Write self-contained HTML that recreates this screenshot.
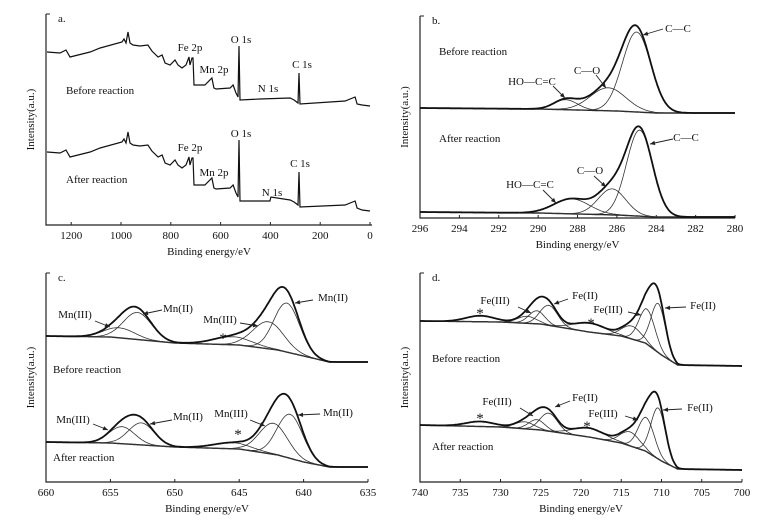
<!DOCTYPE html>
<html><head><meta charset="utf-8">
<style>
html,body{margin:0;padding:0;background:#fff;}
svg{display:block;font-family:"Liberation Serif",serif;}
text{fill:#111;font-size:11px;}
text.star{font-size:15px;}
</style></head>
<body>
<svg id="fig" width="780" height="529" viewBox="0 0 780 529"></svg>
<script>
// ===== Panel a: survey spectra (energy eV, intensity a.u.) =====
const aEnergy = [1297,1245,1221,1205,1124,1084,996,988,980,972,964,952,924,892,876,851,835,823,803,783,771,755,739,727,723,715,711,707,663,635,627,618,562,550,538,530,526,522,442,321,305,289,285,281,100,60,52,32,0];
const aBefore = [173,172,175,168,173,177,183,186,182,193,182,180,179,180,174,168,170,162,160,165,160,157,160,168,160,167,167,140,140,147,137,136,137,140,132,128,179,125,126,127,125,122,152,121,124,128,121,120,119];
const aAfterE = [1297,1245,1221,1205,1124,1084,996,988,980,972,964,952,924,892,876,851,835,823,803,783,771,755,739,727,723,715,711,707,663,635,627,618,562,550,538,530,526,522,442,402,398,321,305,289,285,281,100,60,52,32,0];
const aAfter = [73,72,75,68,73,77,83,86,82,93,82,80,79,80,74,68,70,62,60,65,60,57,60,68,60,67,67,40,40,47,37,36,37,40,32,28,85,24,24,24,28,25,23,20,53,18,20,24,17,15,14];
const aTicks = [1200,1000,800,600,400,200,0];

// ===== Panel b: C 1s =====
const bBgE = [296,290,288,286,284,283,280];
const bBgBefore = [110,109,108,107,105,105,105];
const bBgAfter = [6,5,4,3,1,1,1];
const bCenterBefore = [285.0,286.45,288.6];
const bHeightBefore = [80,23,10];
const bSigmaBefore = [0.72,0.9,0.6];
const bCenterAfter = [284.85,286.25,288.3];
const bHeightAfter = [86,26,15];
const bSigmaAfter = [0.66,0.7,0.9];
const bTicks = [296,294,292,290,288,286,284,282,280];

// ===== Panel c: Mn 2p =====
const cBgE = [660,655,650,645,642,640,638,635];
const cBgBefore = [146,145,139,137,132,126,120,120];
const cBgAfter = [40,39,35,33,27,20,15,15];
const cCenterBefore = [641.3,642.75,645.5,652.9,654.3];
const cHeightBefore = [49,27,8,27,10];
const cSigmaBefore = [1.0,1.2,1.5,1.1,1.2];
const cCenterAfter = [641.05,642.35,645.5,652.6,654.1];
const cHeightAfter = [44,31,6,22,17];
const cSigmaAfter = [1.0,1.1,1.5,1.0,1.0];
const cTicks = [660,655,650,645,640,635];

// ===== Panel d: Fe 2p =====
const dBgE = [740,730,725,719,715,712,710,708,700];
const dBgBefore = [161,160,158,150,146,139,127,117,116];
const dBgAfter = [57,55,52,45,39,31,21,13,12];
const dCenterBefore = [710.4,711.8,713.7,718.9,724.0,725.5,726.7,732.5];
const dHeightBefore = [49,35,13,9,20,13,7,6];
const dSigmaBefore = [0.9,1.0,1.2,2.0,1.1,1.0,1.2,1.8];
const dCenterAfter = [710.4,711.9,713.9,719.0,724.0,725.5,727.0,732.5];
const dHeightAfter = [51,34,14,9,18,10,7,5];
const dSigmaAfter = [0.9,1.0,1.2,2.0,1.1,1.0,1.2,1.8];
const dTicks = [740,735,730,725,720,715,710,705,700];

const NS = "http://www.w3.org/2000/svg";
const svg = document.getElementById('fig');
function mk(tag, attrs, parent){
  const e = document.createElementNS(NS, tag);
  for (const k in attrs) e.setAttribute(k, attrs[k]);
  (parent||svg).appendChild(e);
  return e;
}
function interp(E, xs, ys){
  for (let i=0;i<xs.length-1;i++){
    const a=xs[i], b=xs[i+1];
    if ((E<=a && E>=b) || (E>=a && E<=b)){
      const t=(E-a)/(b-a); return ys[i]+t*(ys[i+1]-ys[i]);
    }
  }
  return ys[ys.length-1];
}
function gauss(E,c,h,s){ return h*Math.exp(-((E-c)*(E-c))/(2*s*s)); }

function axes(g, x0, x1, yTop, yBot, xScale, ticks, letter){
  const ax = mk('path',{d:`M${x0},${yTop} L${x0},${yBot} L${x1},${yBot}`,fill:'none',stroke:'#222','stroke-width':1.2},g);
  
  
  const tt = mk('path',{d:`M${x0},${yTop} L${x0+4},${yTop}`,stroke:'#222','stroke-width':1},g);
  
  
  ticks.forEach(v=>{
    const x = xScale(v);
    const tk = mk('path',{d:`M${x},${yBot} L${x},${yBot-3}`,stroke:'#222','stroke-width':1},g);
    
    
    const t = mk('text',{x:x,y:yBot+14,'text-anchor':'middle'},g);
    t.textContent = v;
    
    
  });
  const xt = mk('text',{x:(x0+x1)/2,y:yBot+30,'text-anchor':'middle'},g);
  xt.textContent = 'Binding energy/eV';
  
  
  const yc = (yTop+yBot)/2;
  const yt = mk('text',{x:x0-12,y:yc,'text-anchor':'middle',transform:`rotate(-90 ${x0-12} ${yc})`},g);
  yt.textContent = 'Intensity(a.u.)';
  
  
  const pl = mk('text',{x:x0+12,y:yTop+8},g);
  pl.textContent = letter;
  
  
}
function label(g, txt, x, y, anchor, name){
  const t = mk('text',{x:x,y:y,'text-anchor':anchor||'middle'},g);
  t.textContent = txt;
  
  
  if (txt==='*') t.setAttribute('class','star');
}
function arrow(g, x1,y1,x2,y2){
  const l = mk('line',{x1:x1,y1:y1,x2:x2,y2:y2,stroke:'#222','stroke-width':0.9},g);
  
  
  const ang = Math.atan2(y2-y1,x2-x1), L=5, W=2.2;
  const bx = x2-L*Math.cos(ang), by = y2-L*Math.sin(ang);
  const px = -Math.sin(ang)*W, py = Math.cos(ang)*W;
  const h = mk('path',{d:`M${x2},${y2} L${bx+px},${by+py} L${bx-px},${by-py} Z`,fill:'#222'},g);
  
  
}
function fitSpectrum(g, xScale, yBot, Emin, Emax, bgE, bgI, cen, hei, sig, name){
  const N=300, comps=cen.map(()=>[]), env=[], bgp=[];
  for (let i=0;i<=N;i++){
    const E = Emax-(Emax-Emin)*i/N;
    const x = xScale(E);
    const bg = interp(E,bgE,bgI);
    let sum=0;
    cen.forEach((c,k)=>{ const v=gauss(E,c,hei[k],sig[k]); sum+=v; comps[k].push(`${x.toFixed(1)},${(yBot-bg-v).toFixed(1)}`); });
    env.push(`${x.toFixed(1)},${(yBot-bg-sum).toFixed(1)}`);
    bgp.push(`${x.toFixed(1)},${(yBot-bg).toFixed(1)}`);
  }
  const b = mk('polyline',{points:bgp.join(' '),fill:'none',stroke:'#222','stroke-width':1.4},g);
  
  
  comps.forEach((p,k)=>{
    const c = mk('polyline',{points:p.join(' '),fill:'none',stroke:'#333','stroke-width':0.8},g);
    
    
  });
  const e = mk('polyline',{points:env.join(' '),fill:'none',stroke:'#111','stroke-width':1.8},g);
  
  
}

// ----- Panel a -----
(function(){
  const g = mk('g',{});  
  const xs = E=>370-E*0.249, yB=225;
  axes(g,46,372,14,yB,xs,aTicks,'a.');
  [[aEnergy,aBefore,'survey-before'],[aAfterE,aAfter,'survey-after']].forEach(([E,I,n])=>{
    const p = mk('polyline',{points:E.map((e,i)=>`${xs(e).toFixed(1)},${yB-I[i]}`).join(' '),fill:'none',stroke:'#111','stroke-width':1.2},g);
    
    
  });
  label(g,'Fe 2p',190,51); label(g,'Mn 2p',214,73); label(g,'O 1s',241,43); label(g,'N 1s',268,92); label(g,'C 1s',302,68);
  label(g,'Before reaction',66,94,'start','before-reaction-label');
  label(g,'Fe 2p',190,151); label(g,'Mn 2p',214,176); label(g,'O 1s',241,137); label(g,'N 1s',272,196); label(g,'C 1s',300,167);
  label(g,'After reaction',66,183,'start','after-reaction-label');
})();

// ----- Panel b -----
(function(){
  const g = mk('g',{});  
  const xs = E=>420+(296-E)*19.69, yB=218;
  axes(g,420,735,16,yB,xs,bTicks,'b.');
  fitSpectrum(g,xs,yB,280,296,bBgE,bBgBefore,bCenterBefore,bHeightBefore,bSigmaBefore,'c1s-before');
  fitSpectrum(g,xs,yB,280,296,bBgE,bBgAfter,bCenterAfter,bHeightAfter,bSigmaAfter,'c1s-after');
  label(g,'Before reaction',439,55,'start','before-reaction-label');
  label(g,'C—C',678,32); label(g,'C—O',587,74); label(g,'HO—C=C',532,85);
  arrow(g,663,29,643,35); arrow(g,596,75,606,88); arrow(g,553,86,565,98);
  label(g,'After reaction',439,142,'start','after-reaction-label');
  label(g,'C—C',686,141); label(g,'C—O',590,174); label(g,'HO—C=C',530,188);
  arrow(g,673,139,650,144); arrow(g,594,176,606,187); arrow(g,543,190,556,203);
})();

// ----- Panel c -----
(function(){
  const g = mk('g',{});  
  const xs = E=>46+(660-E)*12.88, yB=482;
  axes(g,46,368,273,yB,xs,cTicks,'c.');
  fitSpectrum(g,xs,yB,635,660,cBgE,cBgBefore,cCenterBefore,cHeightBefore,cSigmaBefore,'mn2p-before');
  fitSpectrum(g,xs,yB,635,660,cBgE,cBgAfter,cCenterAfter,cHeightAfter,cSigmaAfter,'mn2p-after');
  label(g,'Mn(III)',75,318); label(g,'Mn(II)',178,312); label(g,'Mn(III)',220,323); label(g,'Mn(II)',333,301);
  label(g,'*',223,343,'middle','satellite-marker');
  arrow(g,95,321,110,327); arrow(g,162,310,143,314); arrow(g,240,323,258,326); arrow(g,313,300,295,303);
  label(g,'Before reaction',53,373,'start','before-reaction-label');
  label(g,'Mn(III)',73,423); label(g,'Mn(II)',188,420); label(g,'Mn(III)',231,417); label(g,'Mn(II)',338,416);
  label(g,'*',238,439,'middle','satellite-marker');
  arrow(g,93,424,108,430); arrow(g,172,420,150,424); arrow(g,250,420,265,426); arrow(g,320,414,298,415);
  label(g,'After reaction',53,461,'start','after-reaction-label');
})();

// ----- Panel d -----
(function(){
  const g = mk('g',{});  
  const xs = E=>420+(740-E)*8.05, yB=482;
  axes(g,420,742,273,yB,xs,dTicks,'d.');
  fitSpectrum(g,xs,yB,700,740,dBgE,dBgBefore,dCenterBefore,dHeightBefore,dSigmaBefore,'fe2p-before');
  fitSpectrum(g,xs,yB,700,740,dBgE,dBgAfter,dCenterAfter,dHeightAfter,dSigmaAfter,'fe2p-after');
  label(g,'*',480,318,'middle','satellite-marker'); label(g,'Fe(III)',495,304); label(g,'Fe(II)',585,299);
  label(g,'*',591,328,'middle','satellite-marker'); label(g,'Fe(III)',608,313); label(g,'Fe(II)',703,309);
  arrow(g,518,307,531,313); arrow(g,568,299,554,304); arrow(g,628,312,641,315); arrow(g,686,307,665,308);
  label(g,'Before reaction',432,362,'start','before-reaction-label');
  label(g,'*',480,423,'middle','satellite-marker'); label(g,'Fe(III)',497,405); label(g,'Fe(II)',585,401);
  label(g,'*',587,431,'middle','satellite-marker'); label(g,'Fe(III)',603,417); label(g,'Fe(II)',700,411);
  arrow(g,520,408,533,416); arrow(g,570,401,555,407); arrow(g,625,416,638,420); arrow(g,682,409,663,410);
  label(g,'After reaction',432,450,'start','after-reaction-label');
})();
</script>
</body></html>
